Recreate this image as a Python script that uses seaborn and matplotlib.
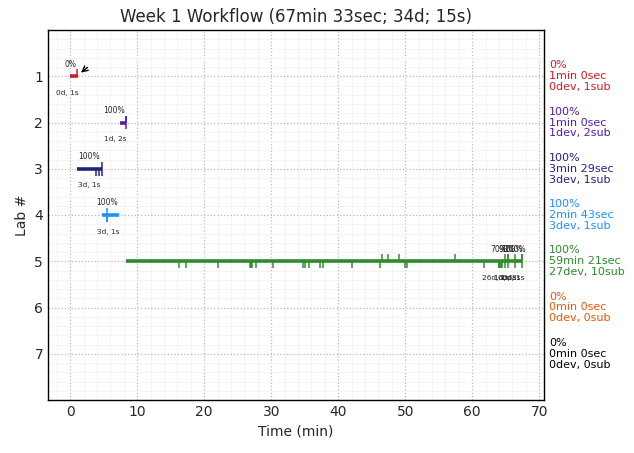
import numpy as np
import pandas as pd
import matplotlib
matplotlib.use("Agg")
import matplotlib.pyplot as plt
import matplotlib.transforms as mtransforms
from matplotlib.ticker import MultipleLocator
import seaborn as sns

# ---------------- data ----------------
labs = [1, 2, 3, 4, 5, 6, 7]
lab_colors = ["#c81e24", "#5a1b9e", "#22227e", "#1e90ff", "#2e8b2e", "#e8590c", "#000000"]
span_start = [0.0, 7.4, 1.1, 4.7, 8.3]
span_end = [1.2, 8.3, 4.7, 7.35, 67.4]

sub_times = {
    1: [1.0],
    2: [8.3, 8.3],
    3: [4.73],
    4: [5.57],
    5: [46.6, 47.5, 49.0, 57.4, 64.9, 65.3, 65.3, 66.4, 67.4, 67.4],
}
dev_times = {
    2: [8.3],
    3: [3.8, 4.3, 4.73],
    4: [5.57, 5.57, 5.57],
    5: [16.3, 17.3, 22.0, 26.8, 27.1, 27.8, 30.3, 34.8, 35.1, 35.6, 37.3, 37.7,
        42.1, 46.3, 50.0, 50.2, 61.7, 64.0, 64.2, 64.4, 64.0, 64.3, 64.9, 65.3,
        66.4, 67.4, 27.0],
}

top_labels = ["0%", "100%", "100%", "100%", "70%", "90%", "100%", "100%"]
top_x = [0.1, 6.6, 2.8, 5.5, 64.0, 65.2, 65.9, 66.4]
top_lab = [1, 2, 3, 4, 5, 5, 5, 5]

bot_labels = ["0d, 1s", "1d, 2s", "3d, 1s", "3d, 1s", "26d, 1s", "1d, 6s", "0d, 8s", "0d, 1s"]
bot_x = [-0.45, 6.7, 2.8, 5.7, 63.5, 64.9, 65.5, 66.1]
bot_lab = [1, 2, 3, 4, 5, 5, 5, 5]

right_pct = ["0%", "100%", "100%", "100%", "100%", "0%", "0%"]
right_time = ["1min 0sec", "1min 0sec", "3min 29sec", "2min 43sec", "59min 21sec", "0min 0sec", "0min 0sec"]
right_cnt = ["0dev, 1sub", "1dev, 2sub", "3dev, 1sub", "3dev, 1sub", "27dev, 10sub", "0dev, 0sub", "0dev, 0sub"]

title = "Week 1 Workflow (67min 33sec; 34d; 15s)"

# ---------------- style ----------------
sns.set_style("ticks")
plt.rcParams["font.family"] = ["DejaVu Sans"]

fig, ax = plt.subplots(figsize=(6.34, 4.53), dpi=100)
fig.subplots_adjust(left=48/634, right=544/634, top=1-30/453, bottom=1-400/453)

# spans via seaborn lineplot
rows = []
for i in range(len(span_start)):
    rows.append({"t": span_start[i], "lab": labs[i], "g": str(labs[i])})
    rows.append({"t": span_end[i], "lab": labs[i], "g": str(labs[i])})
df = pd.DataFrame(rows)
pal = {str(labs[i]): lab_colors[i] for i in range(len(span_start))}
sns.lineplot(data=df, x="t", y="lab", hue="g", palette=pal, estimator=None,
             sort=False, legend=False, lw=2.6, ax=ax, solid_capstyle="butt")

tick_len = 0.15
for lab, ts in sub_times.items():
    c = lab_colors[lab - 1]
    ax.vlines(ts, lab - tick_len, lab, color=c, lw=1.2, alpha=0.9)
for lab, ts in dev_times.items():
    c = lab_colors[lab - 1]
    ax.vlines(ts, lab, lab + tick_len, color=c, lw=1.2, alpha=0.9)

for s, x, lab in zip(top_labels, top_x, top_lab):
    ax.text(x, lab - 0.26, s, ha="center", va="center", fontsize=5.5)
for s, x, lab in zip(bot_labels, bot_x, bot_lab):
    ax.text(x, lab + 0.36, s, ha="center", va="center", fontsize=5.3)

ax.annotate("", xy=(1.3, 0.96), xytext=(2.9, 0.77),
            arrowprops=dict(arrowstyle="->", color="black", lw=1.0))

trans = mtransforms.blended_transform_factory(ax.transAxes, ax.transData)
for i, lab in enumerate(labs):
    ax.text(1.01, lab, f"{right_pct[i]}\n{right_time[i]}\n{right_cnt[i]}",
            transform=trans, ha="left", va="center", fontsize=8,
            color=lab_colors[i], linespacing=1.12, clip_on=False)

ax.set_xlim(-3.3, 70.7)
ax.set_ylim(8, 0)
ax.set_xticks(range(0, 71, 10))
ax.set_yticks(labs)
ax.xaxis.set_minor_locator(MultipleLocator(2))
ax.yaxis.set_minor_locator(MultipleLocator(0.2))
ax.grid(which="major", linestyle=":", color="#b8b8b8", lw=0.9)
ax.grid(which="minor", linestyle="-", color="#f2f2f2", lw=0.6)
ax.set_axisbelow(True)
ax.tick_params(which="both", length=0, labelsize=10)
for sp in ax.spines.values():
    sp.set_color("black")
    sp.set_linewidth(1.0)

ax.set_xlabel("Time (min)", fontsize=10)
ax.set_ylabel("Lab #", fontsize=10)
ax.set_title(title, fontsize=12)

fig.savefig("out.png", dpi=100)
